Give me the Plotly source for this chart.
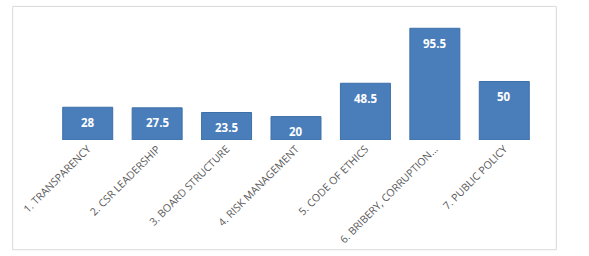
import plotly.graph_objects as go

categories = ["1. TRANSPARENCY", "2. CSR LEADERSHIP", "3. BOARD STRUCTURE",
              "4. RISK MANAGEMENT", "5. CODE OF ETHICS",
              "6. BRIBERY, CORRUPTION...", "7. PUBLIC POLICY"]
values = [28, 27.5, 23.5, 20, 48.5, 95.5, 50]
value_labels = ["28", "27.5", "23.5", "20", "48.5", "95.5", "50"]

fig = go.Figure()
fig.add_trace(go.Bar(
    x=categories, y=values,
    marker=dict(color="#4a7ebb", line=dict(color="#3d6fa8", width=1)),
    width=0.72,
    hoverinfo="x+y",
))

for c, v, t in zip(categories, values, value_labels):
    fig.add_annotation(x=c, y=v, text=t, showarrow=False, yshift=-15,
                       font=dict(family="Open Sans", size=11.5, color="white", weight="bold"))

fig.add_shape(type="rect", xref="paper", yref="paper",
              x0=-0.083, x1=1.0357, y0=-0.938, y1=1.142,
              line=dict(color="#d9d9d9", width=1), layer="below")

fig.update_layout(
    width=589, height=256,
    margin=dict(l=53, r=50, t=23, b=116),
    paper_bgcolor="white", plot_bgcolor="white",
    showlegend=False,
    xaxis=dict(tickangle=-45, automargin=False,
               tickfont=dict(family="Open Sans", size=10.5, color="#595959"),
               showgrid=False, showline=False, ticks="", zeroline=False),
    yaxis=dict(range=[0, 100], visible=False, showgrid=False, zeroline=False,
               automargin=False),
    font=dict(family="Open Sans"),
)

fig.write_html("out.html", config={"displayModeBar": False},
               post_script="document.body.style.margin='0';document.body.style.padding='0';")
